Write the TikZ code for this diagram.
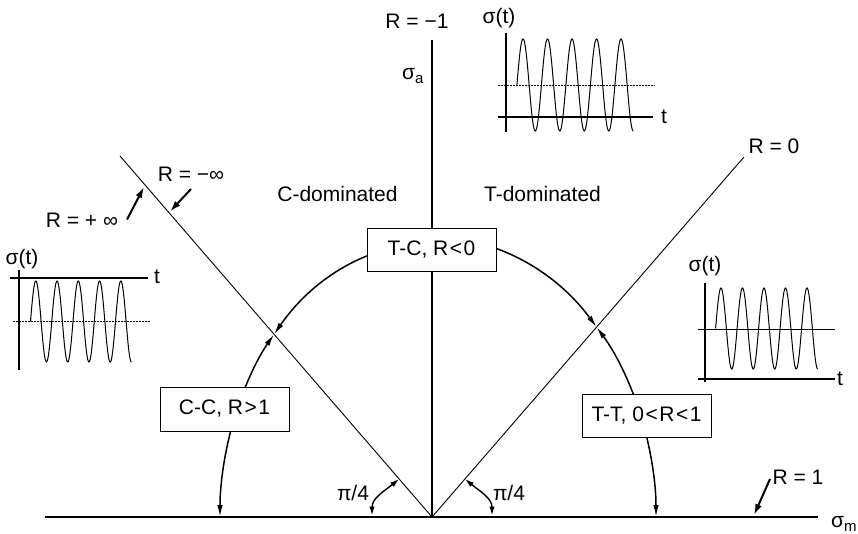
\documentclass[tikz,border=0pt]{standalone}
\usepackage{fontspec}
\setmainfont{Liberation Sans}
\usetikzlibrary{arrows.meta}
\begin{document}
\begin{tikzpicture}[x=1pt,y=1pt,
  every node/.style={font=\fontsize{21}{24}\selectfont, inner sep=0pt},
  axisline/.style={line width=2.7pt},
  diagline/.style={line width=0.9pt},
  arcarrow/.style={line width=1.5pt,-{Latex[length=12pt,width=5.5pt]}},
  lblarrow/.style={line width=2pt,-{Latex[length=11pt,width=7pt]}},
  anglearrow/.style={line width=1.4pt,{Latex[length=9pt,width=5.5pt]}-{Latex[length=9pt,width=5.5pt]}},
  regbox/.style={draw, fill=white, line width=0.9pt, minimum width=129pt, minimum height=43pt},
  thinaxis/.style={line width=1.4pt},
  thickaxis/.style={line width=2.6pt},
  dashline/.style={line width=0.7pt, dash pattern=on 2pt off 1pt},
  midline/.style={line width=0.8pt},
  wave/.style={line width=1pt}
]
\useasboundingbox (0,0) rectangle (858,533);

% main axes and lines
\coordinate (O) at (432,16);
\coordinate (hl) at (45,16);
\coordinate (hr) at (818,16);
\coordinate (vt) at (432,493);
\coordinate (ltop) at (120,377);
\coordinate (rtop) at (744,376);
\draw[axisline] (hl) -- (hr);
\draw[axisline] (O) -- (vt);
\draw[diagline] (O) -- (ltop);
\draw[diagline] (O) -- (rtop);

% arcs (under the boxes)
\draw[arcarrow] (O) ++(90:212 and 274) arc[start angle=90,end angle=138.2,x radius=212,y radius=274];
\draw[arcarrow] (O) ++(158:212 and 274) arc[start angle=158,end angle=138.2,x radius=212,y radius=274];
\draw[arcarrow] (O) ++(158:212 and 274) arc[start angle=158,end angle=180,x radius=212,y radius=274];
\draw[arcarrow] (O) ++(90:224 and 280) arc[start angle=90,end angle=42.7,x radius=224,y radius=280];
\draw[arcarrow] (O) ++(20:224 and 280) arc[start angle=20,end angle=42.7,x radius=224,y radius=280];
\draw[arcarrow] (O) ++(20:224 and 280) arc[start angle=20,end angle=0,x radius=224,y radius=280];

% boxes
\node[regbox] (tc) at (431.5,283.5) {T-C, R\kern1.5pt<\kern1.5pt0};
\node[regbox, minimum height=44pt] (cc) at (224.5,124) {C-C, R\kern1.5pt>\kern1.5pt1};
\node[regbox] (tt) at (646.5,117.5) {T-T, 0\kern1.5pt<\kern1.5ptR\kern1.5pt<\kern1.5pt1};

% axis labels
\node (rm1) at (417,511.5) {R = −1};
\node[anchor=base west] (sa) at (402,453) {σ\raisebox{-4pt}{\fontsize{15}{15}\selectfont a}};
\node[anchor=base west] (sm) at (831,6) {σ\raisebox{-4pt}{\fontsize{15}{15}\selectfont m}};
\node (r0) at (774,386.5) {R = 0};
\node (rmi) at (191,359) {R = −∞};
\node (rpi) at (82,313) {R = + ∞};
\node (r1) at (798,56) {R = 1};
\node (cdom) at (337.5,339) {C-dominated};
\node (tdom) at (542.5,339) {T-dominated};
\node (pil) at (353,40) {π/4};
\node (pir) at (509,40) {π/4};

% label arrows
\coordinate (rmis) at (191,344);
\coordinate (rmie) at (170,321.5);
\coordinate (rpis) at (127,313.5);
\coordinate (rpie) at (144,346);
\coordinate (r1s) at (770,54);
\coordinate (r1e) at (754,18);
\draw[lblarrow] (rmis) -- (rmie);
\draw[lblarrow] (rpis) -- (rpie);
\draw[lblarrow] (r1s) -- (r1e);

% pi/4 angle arrows
\coordinate (al1) at (372,17.5);
\coordinate (al2) at (399,54);
\coordinate (ar1) at (492,17.5);
\coordinate (ar2) at (465,54);
\draw[anglearrow] (al1) to[out=90,in=220] (al2);
\draw[anglearrow] (ar1) to[out=90,in=-40] (ar2);

% top inset
\node (st1) at (499,514.5) {σ(t)};
\node (tt1) at (664,416) {t};
\draw[thinaxis] (506,401) -- (506,500);
\draw[dashline] (498,448) -- (655,448);
\draw[thickaxis] (498,416) -- (653,416);
\draw[wave] plot[domain=0:1710, samples=241, variable=\t] ({516.9+\t/360*24.5},{448+46*sin(\t)});

% left inset
\node (st2) at (22,273.5) {σ(t)};
\node (tt2) at (157,256) {t};
\draw[thinaxis] (19,163) -- (19,263);
\draw[dashline] (13,212) -- (150,212);
\draw[thickaxis] (10,255) -- (148,255);
\draw[wave] plot[domain=0:1710, samples=241, variable=\t] ({30.5+\t/360*21.25},{211.5+40.5*sin(\t)});

% right inset
\node (st3) at (705,266.5) {σ(t)};
\node (tt3) at (840,154) {t};
\draw[thinaxis] (705,151) -- (705,250);
\draw[midline] (698,204) -- (835,204);
\draw[thickaxis] (698,154) -- (835,154);
\draw[wave] plot[domain=0:1710, samples=241, variable=\t] ({715.6+\t/360*21.5},{204.5+40.5*sin(\t)});
\end{tikzpicture}
\end{document}
